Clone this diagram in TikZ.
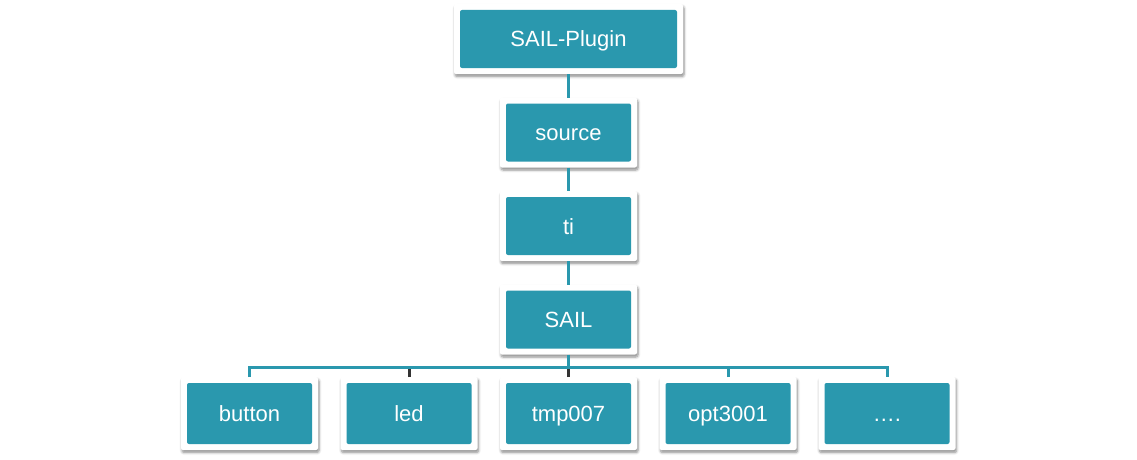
\documentclass[tikz,border=0pt]{standalone}
\usepackage{fontspec}
\setmainfont{Liberation Sans}
\usetikzlibrary{shadows.blur}
\definecolor{boxteal}{RGB}{42,152,174}
\definecolor{stubgray}{RGB}{51,51,51}

\begin{document}
\begin{tikzpicture}[x = 1pt, y = -1pt,
   box/.style = {shape = rectangle, fill = white, rounded corners = 2pt, text = white, font = \fontsize{22}{26}\selectfont, text height = 16pt, text depth = 0pt, inner sep = 0pt, outer sep = 0pt, minimum width = 137pt, minimum height = 70pt,
      blur shadow = {shadow xshift = 1pt, shadow yshift = -2.5pt, shadow blur steps = 6, shadow blur radius = 2.5pt, shadow opacity = 45},
      path picture = {\fill [boxteal] ([shift = {(6pt,-6pt)}]path picture bounding box.north west) rectangle ([shift = {(-6pt,6pt)}]path picture bounding box.south east);}},
   link/.style = {draw = boxteal, line width = 3pt},
   stub/.style = {draw = stubgray, line width = 3pt}]
   \useasboundingbox (0,0) rectangle (1137,460);
   \node(plugin) at (568.5,39) [box, minimum width = 229pt] {SAIL-Plugin};
   \node(source) at (568.5,132.5) [box] {source};
   \node(ti) at (568.5,226) [box] {ti};
   \node(sail) at (568.5,319.5) [box] {SAIL};
   \node(button) at (249.5,413.5) [box, minimum height = 73pt] {button};
   \node(led) at (409,413.5) [box, minimum height = 73pt] {led};
   \node(tmp) at (568.5,413.5) [box, minimum height = 73pt] {tmp007};
   \node(opt) at (728,413.5) [box, minimum height = 73pt] {opt3001};
   \node(more) at (887,413.5) [box, minimum height = 73pt] {\dots.};
   \coordinate(bar) at (568.5,367);
   \draw [link] (plugin) to (source) ;
   \draw [link] (source) to (ti) ;
   \draw [link] (ti) to (sail) ;
   \draw [link] (sail) to (bar) ;
   \draw [link] (button) |- (bar) -| (more) ;
   \draw [link] (opt) to (opt |- bar) ;
   \draw [stub] (led) to ([yshift = -1.5pt]led |- bar) ;
   \draw [stub] (tmp) to ([yshift = -1.5pt]tmp |- bar) ;
\end{tikzpicture}
\end{document}
